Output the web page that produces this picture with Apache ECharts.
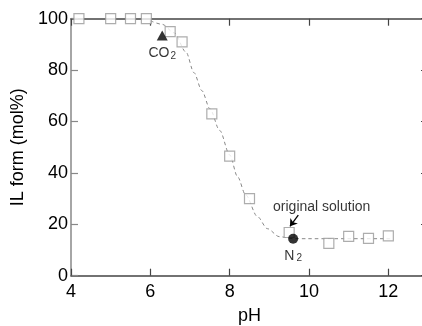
<!DOCTYPE html>
<html>
<head>
<meta charset="utf-8">
<script src="https://cdn.jsdelivr.net/npm/echarts@6/dist/echarts.min.js"></script>
<style>
  html, body { margin: 0; padding: 0; background: #fff; }
  #chart { width: 422px; height: 326px; }
</style>
</head>
<body>
<div id="chart"></div>
<script>
// measured IL form (mol%) vs pH
const squarePoints = [
  [4.2, 100], [5.0, 100], [5.5, 100], [5.9, 100],
  [6.5, 95], [6.8, 91], [7.55, 63], [8.0, 46.5], [8.5, 30],
  [9.5, 16.8], [10.5, 12.6], [11.0, 15.3], [11.5, 14.5], [12.0, 15.5]
];
// dashed guide curve
const curvePoints = [
  [6.0, 99.2], [6.3, 97.8], [6.6, 94.5], [6.9, 87], [7.1, 79], [7.3, 72],
  [7.5, 65], [7.75, 56.5], [8.0, 47], [8.2, 38.5], [8.4, 31.5], [8.7, 23],
  [8.95, 18.3], [9.25, 15.2], [9.6, 14.4], [12.05, 14.4]
];
const co2Point = [6.3, 93.5];
const n2Point = [9.6, 14.4];
const noteLabel = [10.32, 26.7];
const arrowFrom = [9.73, 23.6];
const arrowTo = [9.52, 19.2];

const font = 'Liberation Sans, Arial, sans-serif';
const chart = echarts.init(document.getElementById('chart'));

chart.setOption({
  animation: false,
  grid: { left: 71, top: 18.7, width: 357, height: 257, containLabel: false, outerBoundsMode: 'none' },
  xAxis: [{
    type: 'value', min: 4, max: 13, interval: 2,
    name: 'pH', nameLocation: 'middle', nameGap: 31,
    nameTextStyle: { fontSize: 18, color: '#000', fontFamily: font },
    axisLine: { show: true, onZero: false, lineStyle: { color: '#444', width: 1.5 } },
    axisTick: { show: true, inside: true, length: 7, lineStyle: { color: '#444', width: 1.2 } },
    axisLabel: { fontSize: 18, color: '#000', fontFamily: font, margin: 7, showMaxLabel: false },
    splitLine: { show: false }
  }, {
    type: 'value', min: 4, max: 13, interval: 2, position: 'top',
    axisLine: { show: true, onZero: false, lineStyle: { color: '#444', width: 1.5 } },
    axisTick: { show: true, inside: true, length: 7, lineStyle: { color: '#444', width: 1.2 } },
    axisLabel: { show: false },
    splitLine: { show: false }
  }],
  yAxis: [{
    type: 'value', min: 0, max: 100, interval: 20,
    name: 'IL form (mol%)', nameLocation: 'middle', nameGap: 39,
    nameTextStyle: { fontSize: 18, color: '#000', fontFamily: font },
    axisLine: { show: true, onZero: false, lineStyle: { color: '#888', width: 1.5 } },
    axisTick: { show: true, inside: true, length: 7, lineStyle: { color: '#888', width: 1.2 } },
    axisLabel: { fontSize: 18, color: '#000', fontFamily: font, margin: 3 },
    splitLine: { show: false }
  }, {
    type: 'value', min: 0, max: 100, interval: 20, position: 'right',
    axisLine: { show: true, onZero: false, lineStyle: { color: '#444', width: 1.5 } },
    axisTick: { show: true, inside: true, length: 7, lineStyle: { color: '#444', width: 1.2 } },
    axisLabel: { show: false },
    splitLine: { show: false }
  }],
  series: [{
    type: 'line',
    data: curvePoints,
    smooth: 0.3,
    smoothMonotone: 'x',
    showSymbol: false,
    silent: true,
    z: 1,
    lineStyle: { color: '#888', width: 1, type: [3.5, 3] },
    markLine: {
      silent: true,
      symbol: ['none', 'arrow'],
      symbolSize: 7,
      label: { show: false },
      lineStyle: { color: '#000', width: 1.3, type: 'solid' },
      data: [[{ coord: arrowFrom }, { coord: arrowTo }]]
    }
  }, {
    type: 'scatter',
    data: squarePoints,
    symbol: 'rect',
    symbolSize: 10,
    z: 3,
    itemStyle: { color: '#fff', borderColor: '#999', borderWidth: 1.2 }
  }, {
    type: 'scatter',
    data: [co2Point],
    symbol: 'triangle',
    symbolSize: [11, 10],
    z: 4,
    itemStyle: { color: '#000' },
    label: {
      show: true, position: 'bottom', distance: 5,
      formatter: 'CO{s|2}',
      fontSize: 14, color: '#000', fontFamily: font,
      rich: { s: { fontSize: 10, color: '#000', fontFamily: font, padding: [6, 0, 0, 1] } }
    }
  }, {
    type: 'scatter',
    data: [n2Point],
    symbol: 'circle',
    symbolSize: 10,
    z: 4,
    itemStyle: { color: '#000' },
    label: {
      show: true, position: 'bottom', distance: 4,
      formatter: 'N{s|2}',
      fontSize: 14, color: '#000', fontFamily: font,
      rich: { s: { fontSize: 10, color: '#000', fontFamily: font, padding: [6, 0, 0, 2] } }
    }
  }, {
    type: 'scatter',
    data: [noteLabel],
    symbolSize: 0,
    silent: true,
    z: 4,
    label: {
      show: true, position: 'inside',
      formatter: 'original solution',
      fontSize: 14, color: '#000', fontFamily: font
    }
  }]
});
</script>
</body>
</html>
